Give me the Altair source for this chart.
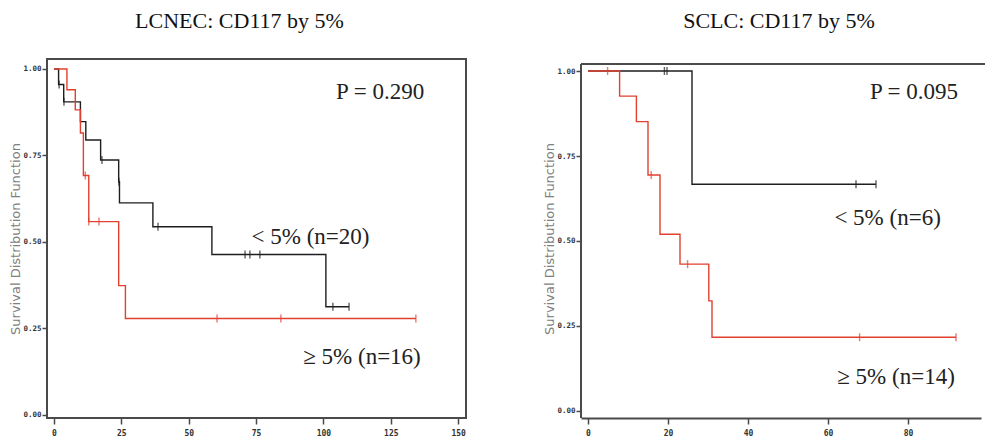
import altair as alt
import pandas as pd

# ---------------- data ----------------
# LCNEC, CD117 < 5%  (black)
lc_lo_t = [0, 1.7, 3.6, 9.8, 11.8, 17.3, 24.0, 24.3, 36.7, 58.6, 100.9, 109.5]
lc_lo_s = [1.0, 0.955, 0.905, 0.848, 0.795, 0.737, 0.674, 0.613, 0.544, 0.464, 0.313, 0.313]
lc_lo_ct = [1.9, 3.7, 17.8, 24.1, 38.6, 70.9, 72.7, 76.4, 103.5, 109.5]
lc_lo_cs = [0.955, 0.905, 0.737, 0.674, 0.544, 0.464, 0.464, 0.464, 0.313, 0.313]
# LCNEC, CD117 >= 5%  (red)
lc_hi_t = [0, 4.8, 7.9, 9.8, 10.9, 12.9, 24.0, 26.5, 134.3]
lc_hi_s = [1.0, 0.94, 0.882, 0.815, 0.692, 0.559, 0.374, 0.279, 0.279]
lc_hi_ct = [11.6, 12.9, 16.7, 60.5, 84.2, 134.3]
lc_hi_cs = [0.692, 0.559, 0.559, 0.279, 0.279, 0.279]

# SCLC, CD117 < 5%  (black)
sc_lo_t = [0, 26.0, 72.0]
sc_lo_s = [1.0, 0.667, 0.667]
sc_lo_ct = [19.1, 19.75, 67.0, 72.0]
sc_lo_cs = [1.0, 1.0, 0.667, 0.667]
# SCLC, CD117 >= 5%  (red)
sc_hi_t = [0, 7.9, 12.1, 15.0, 18.0, 23.0, 30.2, 31.0, 92.0]
sc_hi_s = [1.0, 0.926, 0.851, 0.694, 0.52, 0.432, 0.324, 0.217, 0.217]
sc_hi_ct = [4.9, 15.8, 24.9, 67.9, 92.0]
sc_hi_cs = [1.0, 0.694, 0.432, 0.217, 0.217]

groups = ["< 5%", ">= 5%"]
y_ticks = [0, 0.25, 0.5, 0.75, 1.0]
lc_x_ticks = [0, 25, 50, 75, 100, 125, 150]
sc_x_ticks = [0, 20, 40, 60, 80]

titles = ["LCNEC: CD117 by 5%", "SCLC: CD117 by 5%"]
lc_notes = ["P = 0.290", "< 5% (n=20)", "\u2265 5% (n=16)"]
lc_note_t = [121, 95.2, 114.3]
lc_note_s = [0.934, 0.514, 0.168]
sc_notes = ["P = 0.095", "< 5% (n=6)", "\u2265 5% (n=14)"]
sc_note_t = [81.5, 74.9, 77.0]
sc_note_s = [0.938, 0.568, 0.10]

BLACK = "#1e1e1e"
RED = "#e2402f"
FRAME = "#4a4a4a"
SERIF = "'Liberation Serif', 'Times New Roman', serif"
color_scale = alt.Scale(domain=groups, range=[BLACK, RED])


def frame_df(lo_t, lo_s, hi_t, hi_s):
    return pd.concat([
        pd.DataFrame({"t": lo_t, "s": lo_s, "g": groups[0]}),
        pd.DataFrame({"t": hi_t, "s": hi_s, "g": groups[1]}),
    ], ignore_index=True)


def panel(curves, cens, notes, xdom, ydom, xticks, width, height, title, dx, framed):
    x_axis = alt.Axis(values=xticks, format="d", title=None, grid=False,
                      domain=not framed, domainColor=FRAME, domainWidth=2,
                      tickSize=6, tickColor=FRAME, tickWidth=1.5,
                      labelFont="DejaVu Sans Mono", labelFontSize=8, labelFontWeight="bold",
                      labelColor="#333", labelPadding=5)
    y_axis = alt.Axis(values=y_ticks, format=".2f", title="Survival Distribution Function",
                      grid=False, domain=False,
                      tickSize=5, tickColor=FRAME, tickWidth=1.5,
                      labelFont="DejaVu Sans Mono", labelFontSize=7.5, labelFontWeight="bold",
                      labelColor="#333", labelPadding=1,
                      titleFont="DejaVu Sans", titleFontSize=13, titleFontWeight="normal",
                      titleColor="#808080", titlePadding=0)
    x = alt.X("t:Q", scale=alt.Scale(domain=xdom, nice=False, zero=False), axis=x_axis)
    y = alt.Y("s:Q", scale=alt.Scale(domain=ydom, nice=False, zero=False), axis=y_axis)
    col = alt.Color("g:N", scale=color_scale, legend=None)

    lines = alt.Chart(curves).mark_line(interpolate="step-after", strokeWidth=1.4, clip=True).encode(
        x=x, y=y, color=col, detail="g:N")
    ticks = alt.Chart(cens).mark_tick(orient="vertical", size=8, thickness=1.4).encode(
        x=x, y=y, color=col)
    texts = alt.Chart(notes).mark_text(font=SERIF, fontSize=23, color="#222",
                                       align="center", baseline="middle").encode(
        x=x, y=y, text="label:N")
    layers = [lines, ticks, texts]
    if not framed:
        top = alt.Chart(notes).mark_rule(color=FRAME, strokeWidth=2).encode(
            x=alt.value(0), x2=alt.value(width + 4), y=alt.value(5))
        left = alt.Chart(notes).mark_rule(color=FRAME, strokeWidth=2).encode(
            x=alt.value(0), y=alt.value(5), y2=alt.value(height))
        layers = [top, left] + layers
    ch = alt.layer(*layers).properties(
        width=width, height=height,
        title=alt.TitleParams(title, font=SERIF, fontSize=22, fontWeight="normal",
                              color="#111", anchor="middle", dx=dx, offset=26),
    )
    if framed:
        ch = ch.properties(view=alt.ViewBackground(stroke=FRAME, strokeWidth=2))
    return ch


lc_curves = frame_df(lc_lo_t, lc_lo_s, lc_hi_t, lc_hi_s)
lc_cens = frame_df(lc_lo_ct, lc_lo_cs, lc_hi_ct, lc_hi_cs)
lc_text = pd.DataFrame({"t": lc_note_t, "s": lc_note_s, "label": lc_notes})
sc_curves = frame_df(sc_lo_t, sc_lo_s, sc_hi_t, sc_hi_s)
sc_cens = frame_df(sc_lo_ct, sc_lo_cs, sc_hi_ct, sc_hi_cs)
sc_text = pd.DataFrame({"t": sc_note_t, "s": sc_note_s, "label": sc_notes})

left = panel(lc_curves, lc_cens, lc_text, [-2.6, 152.9], [-0.0087, 1.0289], lc_x_ticks,
             419, 359, titles[0], -17, True)
right = panel(sc_curves, sc_cens, sc_text, [-1.75, 98.25], [-0.0206, 1.0353], sc_x_ticks,
              400, 359, titles[1], -2, False)

chart = alt.hconcat(left, right, spacing=76).properties(
    padding={"left": 0, "top": 1, "right": 0, "bottom": 0}
).configure_view(stroke="transparent")

chart.save("out.html", embed_options={"renderer": "svg", "actions": False})
